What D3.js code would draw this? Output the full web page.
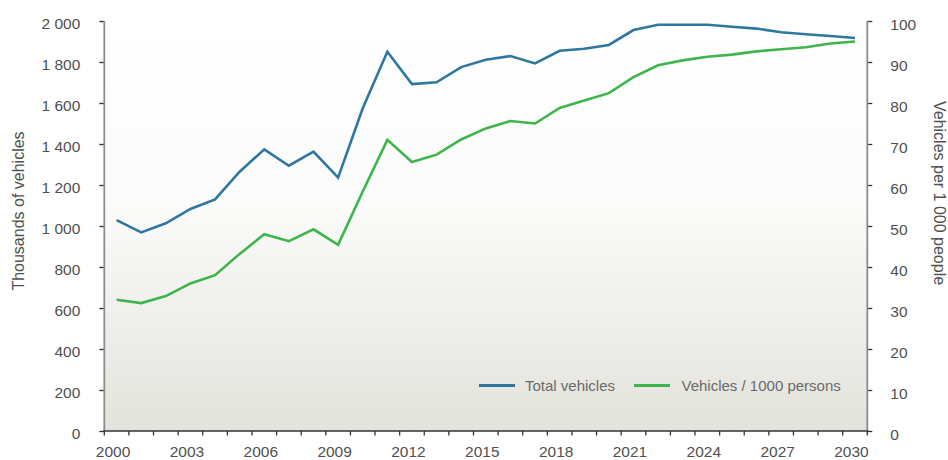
<!DOCTYPE html>
<html>
<head>
<meta charset="utf-8">
<script src="https://cdn.jsdelivr.net/npm/d3@7"></script>
<style>
  html, body { margin: 0; padding: 0; background: #ffffff; }
  svg { display: block; font-family: "Liberation Sans", Arial, Helvetica, sans-serif; }
</style>
</head>
<body>
<svg id="chart" width="948" height="460"></svg>
<script>
// ---- Data ----
const years = d3.range(2000, 2031);
const totalVehicles = [1029, 969, 1013, 1083, 1130, 1265, 1374, 1294, 1363, 1236,
  1574, 1850, 1692, 1701, 1775, 1811, 1829, 1793, 1855, 1865,
  1883, 1956, 1982, 1982, 1982, 1972, 1963, 1945, 1935, 1927, 1917];
const vehiclesPer1000 = [32.0, 31.2, 32.9, 36.0, 38.0, 43.2, 48.0, 46.3, 49.2, 45.4,
  58.4, 71.0, 65.6, 67.4, 71.1, 73.8, 75.6, 75.0, 78.8, 80.6,
  82.4, 86.3, 89.2, 90.4, 91.3, 91.8, 92.6, 93.1, 93.6, 94.5, 95.0];
const xTickLabels = [2000, 2003, 2006, 2009, 2012, 2015, 2018, 2021, 2024, 2027, 2030];
const leftTicks = [0, 200, 400, 600, 800, 1000, 1200, 1400, 1600, 1800, 2000];
const rightTicks = [0, 10, 20, 30, 40, 50, 60, 70, 80, 90, 100];
const seriesNames = ["Total vehicles", "Vehicles / 1000 persons"];
const leftTitle = "Thousands of vehicles";
const rightTitle = "Vehicles per 1 000 people";

// ---- Layout ----
const plot = { left: 104.3, right: 867.3, top: 21, bottom: 431 };
const colors = { blue: "#2d77a0", green: "#3db54c", text: "#505050", legendText: "#6a6a6a" };

const svg = d3.select("#chart");

const x = d3.scaleBand().domain(years).range([plot.left, plot.right]).paddingInner(0).paddingOuter(0);
const yL = d3.scaleLinear().domain([0, 2000]).range([plot.bottom, plot.top]);
const yR = d3.scaleLinear().domain([0, 100]).range([plot.bottom, plot.top]);

// background gradient
const defs = svg.append("defs");
const grad = defs.append("linearGradient").attr("id", "bg").attr("x1", 0).attr("y1", 0).attr("x2", 0).attr("y2", 1);
grad.append("stop").attr("offset", "0%").attr("stop-color", "#ffffff");
grad.append("stop").attr("offset", "45%").attr("stop-color", "#fbfbfa");
grad.append("stop").attr("offset", "100%").attr("stop-color", "#e3e2dc");

svg.append("rect")
  .attr("x", plot.left).attr("y", plot.top)
  .attr("width", plot.right - plot.left).attr("height", plot.bottom - plot.top)
  .attr("fill", "url(#bg)");

// ---- Lines ----
const cx = d => x(d) + x.bandwidth() / 2;
const lineL = d3.line().x((d, i) => cx(years[i])).y(d => yL(d));
const lineR = d3.line().x((d, i) => cx(years[i])).y(d => yR(d));

svg.append("path").datum(vehiclesPer1000)
  .attr("d", lineR).attr("fill", "none").attr("stroke", colors.green)
  .attr("stroke-width", 2.6).attr("stroke-linejoin", "miter");
svg.append("path").datum(totalVehicles)
  .attr("d", lineL).attr("fill", "none").attr("stroke", colors.blue)
  .attr("stroke-width", 2.6).attr("stroke-linejoin", "miter");

// ---- Axes ----
// left axis
const gL = svg.append("g").attr("transform", `translate(${plot.left},0)`)
  .call(d3.axisLeft(yL).tickValues(leftTicks).tickSize(5).tickPadding(19)
    .tickFormat(d => d3.format(",")(d).replace(/,/g, " ")));
gL.select(".domain").remove();
gL.append("line").attr("x1", 0).attr("x2", 0).attr("y1", plot.top).attr("y2", plot.bottom)
  .attr("stroke", "#8c8c8c").attr("stroke-width", 1.8);
gL.selectAll(".tick line").attr("stroke", "#333").attr("stroke-width", 1.3);
gL.selectAll(".tick text").attr("fill", colors.text).attr("font-size", 15.5)
  .attr("font-family", "'Liberation Sans', Arial, sans-serif").attr("dy", "0.5em").attr("y", 0);

// right axis
const gR = svg.append("g").attr("transform", `translate(${plot.right},0)`)
  .call(d3.axisRight(yR).tickValues(rightTicks).tickSize(5).tickPadding(18));
gR.select(".domain").remove();
gR.append("line").attr("x1", 0).attr("x2", 0).attr("y1", plot.top).attr("y2", plot.bottom)
  .attr("stroke", "#8c8c8c").attr("stroke-width", 1.8);
gR.selectAll(".tick line").attr("stroke", "#333").attr("stroke-width", 1.3);
gR.selectAll(".tick text").attr("fill", colors.text).attr("font-size", 15.5)
  .attr("font-family", "'Liberation Sans', Arial, sans-serif").attr("dy", "0.55em").attr("y", 0);

// bottom axis: ticks at band boundaries
const boundaries = years.map(yv => x(yv)).concat([plot.right]);
const gB = svg.append("g");
gB.append("line").attr("x1", plot.left - 1).attr("x2", plot.right + 1)
  .attr("y1", plot.bottom).attr("y2", plot.bottom)
  .attr("stroke", "#333").attr("stroke-width", 1.5);
gB.selectAll("line.xt").data(boundaries).join("line").attr("class", "xt")
  .attr("x1", d => d).attr("x2", d => d)
  .attr("y1", plot.bottom).attr("y2", plot.bottom + 4.5)
  .attr("stroke", "#333").attr("stroke-width", 1.3);
gB.selectAll("text").data(xTickLabels).join("text")
  .attr("x", d => cx(d) - 3.5).attr("y", 457)
  .attr("text-anchor", "middle").attr("fill", colors.text).attr("font-size", 15.5)
  .text(d => d);

// ---- Axis titles ----
svg.append("text")
  .attr("transform", "translate(24,211) rotate(-90)")
  .attr("text-anchor", "middle").attr("fill", colors.text).attr("font-size", 16)
  .text(leftTitle);
svg.append("text")
  .attr("transform", "translate(934,193) rotate(90)")
  .attr("text-anchor", "middle").attr("fill", colors.text).attr("font-size", 16)
  .text(rightTitle);

// ---- Legend ----
const legend = svg.append("g");
const legendItems = [
  { name: seriesNames[0], color: colors.blue, x1: 479, x2: 515, tx: 525 },
  { name: seriesNames[1], color: colors.green, x1: 634, x2: 670, tx: 681.5 }
];
legendItems.forEach(it => {
  legend.append("line").attr("x1", it.x1).attr("x2", it.x2).attr("y1", 385.5).attr("y2", 385.5)
    .attr("stroke", it.color).attr("stroke-width", 3);
  legend.append("text").attr("x", it.tx).attr("y", 391).attr("fill", colors.legendText)
    .attr("font-size", 15).text(it.name);
});
</script>
</body>
</html>
